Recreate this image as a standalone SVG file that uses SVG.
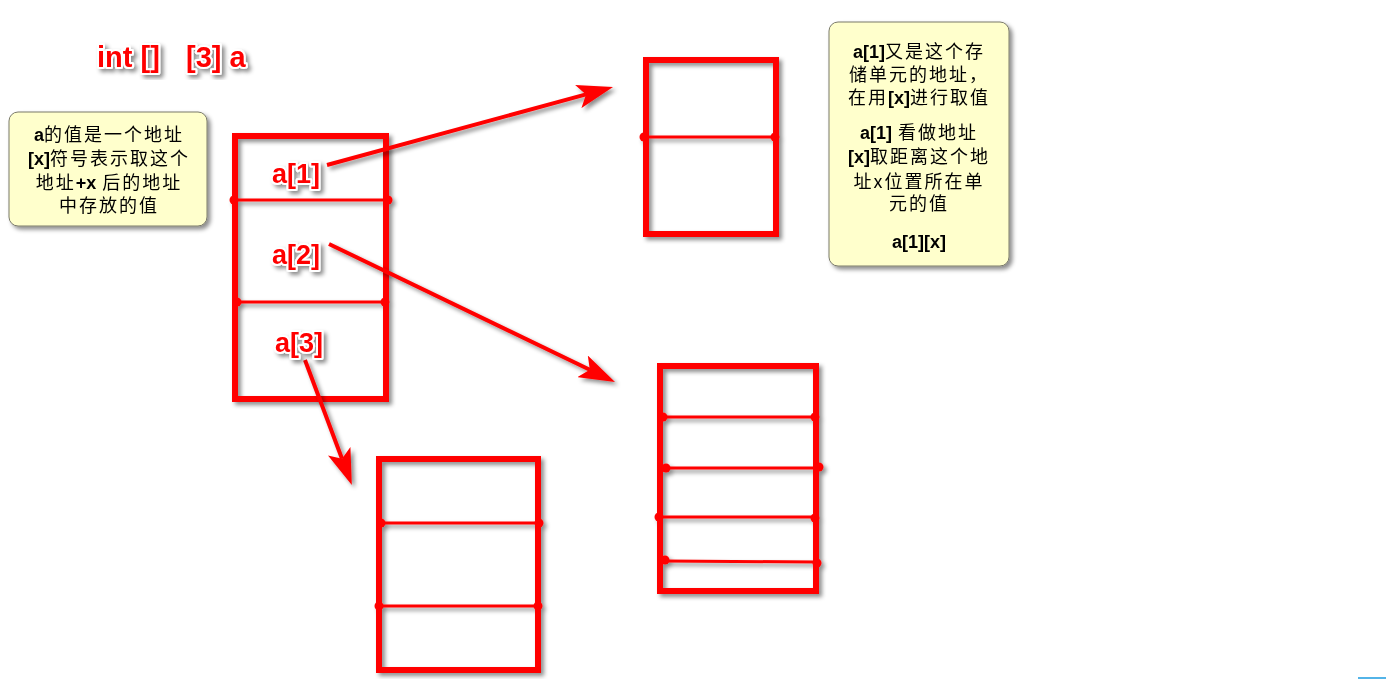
<svg xmlns="http://www.w3.org/2000/svg" width="1391" height="679" viewBox="0 0 1391 679">
<style>
.box{fill:none;stroke:#ff0000;stroke-width:6;}
.div{stroke:#ff0000;stroke-width:3;}
.dot{fill:#ff0000;}
.lbl{font-family:"Liberation Sans",Arial,sans-serif;font-weight:bold;font-size:27px;fill:#ff0000;stroke:#ffffff;stroke-width:4;stroke-linejoin:round;paint-order:stroke;}
.ttl{font-size:29px;}
.note{fill:#ffffcc;stroke:#7a7a6a;stroke-width:1;}
.nt{font-family:"Noto Sans CJK SC","Liberation Sans",sans-serif;font-size:18px;letter-spacing:2px;fill:#000;text-anchor:middle;}
.b{font-family:"Liberation Sans",Arial,sans-serif;font-weight:bold;letter-spacing:0;}
.arr{stroke:#ff0000;stroke-width:4;fill:none;marker-end:url(#ah);}
</style>
<defs>
<filter id="sh" x="-20%" y="-20%" width="140%" height="140%">
<feDropShadow dx="3" dy="3" stdDeviation="2" flood-color="#000" flood-opacity="0.45"/>
</filter>
<marker id="ah" markerUnits="userSpaceOnUse" viewBox="0 0 36 24" markerWidth="36" markerHeight="24" refX="8" refY="12" orient="auto">
<path d="M0,0 L36,12 L0,24 L8,12 z" fill="#ff0000"/>
</marker>
</defs>
<rect width="1391" height="679" fill="#ffffff"/>

<g id="title" filter="url(#sh)">
<text class="lbl ttl" x="97" y="67">int []</text>
<text class="lbl ttl" x="186" y="67">[3] a</text>
</g>

<g id="note-left" filter="url(#sh)">
<rect class="note" x="9" y="112" width="198" height="114" rx="9"/>
<text class="nt" x="109" y="141"><tspan class="b">a</tspan>的值是一个地址</text>
<text class="nt" x="109" y="165"><tspan class="b">[x]</tspan>符号表示取这个</text>
<text class="nt" x="109" y="189">地址<tspan class="b">+x</tspan> 后的地址</text>
<text class="nt" x="109" y="212">中存放的值</text>
</g>

<g id="note-right" filter="url(#sh)">
<rect class="note" x="829" y="22" width="180" height="244" rx="9"/>
<text class="nt" x="919" y="58"><tspan class="b">a[1]</tspan>又是这个存</text>
<text class="nt" x="919" y="81">储单元的地址，</text>
<text class="nt" x="919" y="104">在用<tspan class="b">[x]</tspan>进行取值</text>
<text class="nt" x="919" y="139"><tspan class="b">a[1]</tspan> 看做地址</text>
<text class="nt" x="919" y="163"><tspan class="b">[x]</tspan>取距离这个地</text>
<text class="nt" x="919" y="188">址x位置所在单</text>
<text class="nt" x="919" y="210">元的值</text>
<text class="nt" x="919" y="248"><tspan class="b">a[1][x]</tspan></text>
</g>

<g id="array-main" filter="url(#sh)">
<rect class="box" x="235" y="136" width="151" height="263"/>
<line class="div" x1="235" y1="200" x2="388" y2="200"/>
<circle class="dot" cx="234" cy="200" r="4.5"/><circle class="dot" cx="388" cy="200" r="4.5"/>
<line class="div" x1="237" y1="302" x2="385" y2="302"/>
<circle class="dot" cx="237" cy="302" r="4.5"/><circle class="dot" cx="385" cy="302" r="4.5"/>
</g>

<g id="array-top" filter="url(#sh)">
<rect class="box" x="646" y="60" width="130" height="174"/>
<line class="div" x1="644" y1="137" x2="775" y2="137"/>
<circle class="dot" cx="644" cy="137" r="4.5"/><circle class="dot" cx="775" cy="137" r="4.5"/>
</g>

<g id="array-right" filter="url(#sh)">
<rect class="box" x="660" y="366" width="156" height="225"/>
<line class="div" x1="663" y1="417" x2="815" y2="417"/>
<circle class="dot" cx="663" cy="417" r="4.5"/><circle class="dot" cx="815" cy="417" r="4.5"/>
<line class="div" x1="666" y1="468" x2="819" y2="468"/>
<circle class="dot" cx="666" cy="468" r="4.5"/><circle class="dot" cx="819" cy="467" r="4.5"/>
<line class="div" x1="659" y1="517" x2="815" y2="517"/>
<circle class="dot" cx="659" cy="517" r="4.5"/><circle class="dot" cx="815" cy="518" r="4.5"/>
<line class="div" x1="665" y1="561" x2="817" y2="562"/>
<circle class="dot" cx="665" cy="560" r="4.5"/><circle class="dot" cx="817" cy="563" r="4.5"/>
</g>

<g id="array-bottom" filter="url(#sh)">
<rect class="box" x="379" y="459" width="159" height="211"/>
<line class="div" x1="381" y1="523" x2="539" y2="523"/>
<circle class="dot" cx="381" cy="523" r="4.5"/><circle class="dot" cx="539" cy="523" r="4.5"/>
<line class="div" x1="379" y1="606" x2="538" y2="606"/>
<circle class="dot" cx="379" cy="606" r="4.5"/><circle class="dot" cx="538" cy="606" r="4.5"/>
</g>

<g id="connectors" filter="url(#sh)">
<line class="arr" x1="327" y1="165" x2="586" y2="94.4"/>
<line class="arr" x1="329" y1="244" x2="589.8" y2="369.8"/>
<line class="arr" x1="305" y1="360" x2="342" y2="458.8"/>
</g>

<g id="labels" filter="url(#sh)">
<text class="lbl" x="272" y="183">a[1]</text>
<text class="lbl" x="272" y="264">a[2]</text>
<text class="lbl" x="275" y="352">a[3]</text>
</g>

<line x1="1358" y1="678" x2="1386" y2="678" stroke="#1a9be0" stroke-width="1.5"/>
</svg>
